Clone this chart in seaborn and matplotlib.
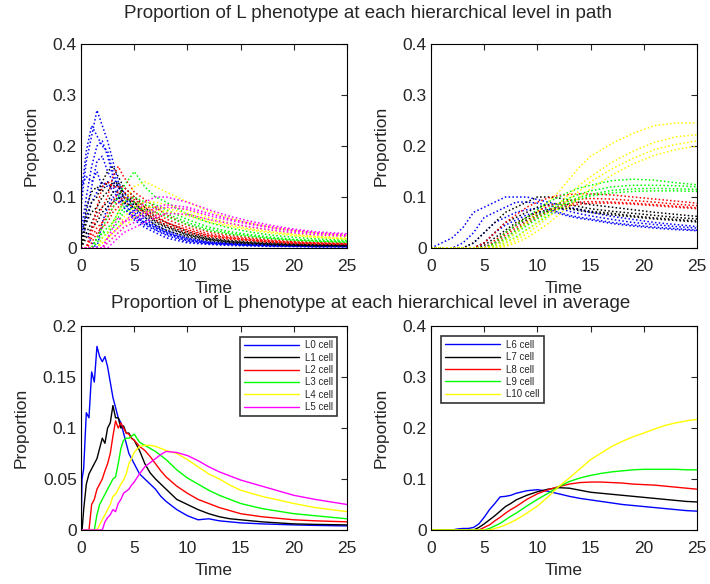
import numpy as np
import pandas as pd
import seaborn as sns
import matplotlib
matplotlib.use('Agg')
import matplotlib.pyplot as plt
from matplotlib.ticker import FuncFormatter

# ---------------- data ----------------
# path samples (top panels)
t_path_a = [0, 0.5, 1, 1.5, 2, 2.5, 3, 3.5, 4, 5, 6, 7, 8, 10, 12, 14, 16, 18, 20, 22, 25]
paths_l0 = [
    [0.08, 0.17, 0.22, 0.27, 0.24, 0.21, 0.17, 0.13, 0.11, 0.08, 0.06, 0.045, 0.035, 0.02, 0.012, 0.009, 0.007, 0.006, 0.005, 0.004, 0.004],
    [0.03, 0.10, 0.16, 0.20, 0.21, 0.18, 0.14, 0.12, 0.10, 0.07, 0.05, 0.04, 0.03, 0.017, 0.01, 0.008, 0.006, 0.005, 0.004, 0.004, 0.003],
    [0.12, 0.14, 0.13, 0.15, 0.12, 0.13, 0.11, 0.10, 0.09, 0.06, 0.045, 0.035, 0.025, 0.012, 0.008, 0.006, 0.005, 0.004, 0.003, 0.003, 0.003],
    [0.06, 0.05, 0.09, 0.11, 0.13, 0.12, 0.12, 0.10, 0.08, 0.055, 0.04, 0.03, 0.02, 0.01, 0.007, 0.005, 0.004, 0.003, 0.003, 0.002, 0.002],
    [0.05, 0.03, 0.01, 0.0, 0.05, 0.08, 0.10, 0.09, 0.08, 0.06, 0.05, 0.04, 0.03, 0.015, 0.01, 0.008, 0.006, 0.005, 0.004, 0.003, 0.003],
    [0.10, 0.19, 0.24, 0.22, 0.20, 0.19, 0.15, 0.12, 0.10, 0.075, 0.055, 0.042, 0.032, 0.018, 0.011, 0.008, 0.006, 0.005, 0.004, 0.004, 0.003],
    [0.02, 0.07, 0.12, 0.17, 0.18, 0.15, 0.13, 0.11, 0.09, 0.065, 0.048, 0.036, 0.027, 0.014, 0.009, 0.007, 0.005, 0.004, 0.004, 0.003, 0.003],
]
paths_l1 = [
    [0, 0.06, 0.09, 0.10, 0.13, 0.15, 0.16, 0.14, 0.12, 0.10, 0.08, 0.06, 0.05, 0.032, 0.02, 0.015, 0.012, 0.01, 0.008, 0.007, 0.006],
    [0, 0.03, 0.05, 0.07, 0.08, 0.09, 0.11, 0.11, 0.10, 0.09, 0.07, 0.055, 0.045, 0.028, 0.018, 0.013, 0.01, 0.008, 0.007, 0.006, 0.005],
    [0, 0.02, 0.04, 0.05, 0.07, 0.08, 0.09, 0.10, 0.09, 0.08, 0.06, 0.045, 0.035, 0.022, 0.014, 0.01, 0.008, 0.006, 0.005, 0.004, 0.004],
    [0, 0.05, 0.07, 0.08, 0.10, 0.11, 0.13, 0.12, 0.11, 0.09, 0.065, 0.05, 0.04, 0.025, 0.016, 0.012, 0.009, 0.007, 0.006, 0.005, 0.005],
    [0, 0.08, 0.11, 0.12, 0.11, 0.13, 0.12, 0.13, 0.10, 0.085, 0.07, 0.052, 0.042, 0.026, 0.017, 0.012, 0.01, 0.008, 0.006, 0.005, 0.005],
]
paths_l2 = [
    [0, 0, 0.03, 0.06, 0.08, 0.10, 0.14, 0.16, 0.14, 0.11, 0.095, 0.08, 0.065, 0.045, 0.032, 0.025, 0.02, 0.016, 0.013, 0.011, 0.01],
    [0, 0, 0.02, 0.04, 0.05, 0.07, 0.09, 0.11, 0.11, 0.095, 0.08, 0.065, 0.05, 0.036, 0.025, 0.02, 0.016, 0.013, 0.01, 0.009, 0.008],
    [0, 0, 0.01, 0.03, 0.04, 0.05, 0.07, 0.08, 0.09, 0.08, 0.07, 0.055, 0.045, 0.03, 0.022, 0.017, 0.014, 0.011, 0.009, 0.008, 0.007],
    [0, 0, 0.0, 0.02, 0.05, 0.06, 0.08, 0.09, 0.10, 0.09, 0.075, 0.06, 0.05, 0.034, 0.024, 0.019, 0.015, 0.012, 0.01, 0.009, 0.008],
    [0, 0, 0.04, 0.08, 0.12, 0.13, 0.12, 0.12, 0.12, 0.10, 0.085, 0.07, 0.057, 0.04, 0.028, 0.022, 0.018, 0.014, 0.012, 0.01, 0.009],
]
paths_l3 = [
    [0, 0, 0, 0.02, 0.04, 0.06, 0.08, 0.10, 0.12, 0.15, 0.12, 0.10, 0.09, 0.066, 0.05, 0.039, 0.031, 0.025, 0.021, 0.018, 0.015],
    [0, 0, 0, 0.01, 0.03, 0.04, 0.05, 0.07, 0.09, 0.10, 0.09, 0.085, 0.075, 0.056, 0.041, 0.032, 0.026, 0.021, 0.017, 0.015, 0.013],
    [0, 0, 0, 0.0, 0.02, 0.03, 0.04, 0.05, 0.07, 0.08, 0.075, 0.07, 0.062, 0.046, 0.034, 0.027, 0.022, 0.018, 0.015, 0.013, 0.011],
    [0, 0, 0, 0.02, 0.03, 0.03, 0.05, 0.06, 0.08, 0.09, 0.085, 0.078, 0.068, 0.05, 0.037, 0.029, 0.024, 0.019, 0.016, 0.014, 0.012],
]
paths_l4 = [
    [0, 0, 0, 0, 0.02, 0.03, 0.05, 0.07, 0.09, 0.12, 0.13, 0.12, 0.11, 0.09, 0.072, 0.058, 0.048, 0.04, 0.034, 0.029, 0.024],
    [0, 0, 0, 0, 0.01, 0.02, 0.03, 0.04, 0.06, 0.08, 0.09, 0.09, 0.085, 0.074, 0.06, 0.049, 0.04, 0.034, 0.028, 0.024, 0.02],
    [0, 0, 0, 0, 0.0, 0.01, 0.02, 0.03, 0.04, 0.06, 0.07, 0.075, 0.072, 0.063, 0.051, 0.042, 0.035, 0.029, 0.024, 0.021, 0.017],
    [0, 0, 0, 0, 0.01, 0.02, 0.03, 0.04, 0.05, 0.07, 0.08, 0.08, 0.078, 0.068, 0.055, 0.045, 0.037, 0.031, 0.026, 0.022, 0.018],
]
paths_l5 = [
    [0, 0, 0, 0, 0, 0.02, 0.03, 0.04, 0.05, 0.07, 0.09, 0.10, 0.10, 0.09, 0.075, 0.062, 0.052, 0.044, 0.037, 0.032, 0.028],
    [0, 0, 0, 0, 0, 0.01, 0.02, 0.03, 0.04, 0.05, 0.065, 0.075, 0.08, 0.076, 0.064, 0.054, 0.046, 0.039, 0.033, 0.029, 0.025],
    [0, 0, 0, 0, 0, 0.0, 0.01, 0.02, 0.03, 0.04, 0.05, 0.06, 0.068, 0.066, 0.056, 0.048, 0.041, 0.035, 0.03, 0.026, 0.023],
    [0, 0, 0, 0, 0, 0.02, 0.04, 0.06, 0.05, 0.06, 0.07, 0.08, 0.085, 0.08, 0.068, 0.057, 0.048, 0.041, 0.035, 0.03, 0.026],
]

t_path_b = [0, 2, 3, 4, 5, 6, 7, 8, 9, 10, 11, 12, 13, 14, 15, 17, 19, 21, 23, 25]
paths_l6 = [
    [0, 0.02, 0.04, 0.07, 0.08, 0.09, 0.10, 0.10, 0.10, 0.095, 0.09, 0.085, 0.08, 0.075, 0.07, 0.062, 0.056, 0.05, 0.046, 0.042],
    [0, 0, 0.01, 0.03, 0.06, 0.07, 0.08, 0.09, 0.09, 0.088, 0.084, 0.078, 0.072, 0.067, 0.063, 0.056, 0.05, 0.046, 0.042, 0.039],
    [0, 0, 0, 0.01, 0.03, 0.05, 0.06, 0.07, 0.075, 0.078, 0.076, 0.07, 0.064, 0.06, 0.057, 0.05, 0.045, 0.041, 0.038, 0.035],
    [0, 0, 0, 0, 0.01, 0.03, 0.045, 0.055, 0.065, 0.07, 0.072, 0.068, 0.062, 0.058, 0.055, 0.048, 0.043, 0.039, 0.036, 0.034],
]
paths_l7 = [
    [0, 0, 0, 0.01, 0.03, 0.05, 0.07, 0.08, 0.09, 0.10, 0.10, 0.098, 0.094, 0.089, 0.085, 0.08, 0.075, 0.07, 0.066, 0.062],
    [0, 0, 0, 0, 0.01, 0.03, 0.05, 0.06, 0.07, 0.08, 0.085, 0.087, 0.085, 0.081, 0.077, 0.072, 0.068, 0.064, 0.06, 0.057],
    [0, 0, 0, 0, 0.0, 0.01, 0.03, 0.045, 0.055, 0.065, 0.072, 0.077, 0.078, 0.076, 0.072, 0.068, 0.063, 0.059, 0.056, 0.053],
    [0, 0, 0, 0, 0.005, 0.02, 0.035, 0.05, 0.06, 0.07, 0.075, 0.078, 0.077, 0.073, 0.07, 0.065, 0.061, 0.057, 0.054, 0.051],
]
paths_l8 = [
    [0, 0, 0, 0, 0.01, 0.03, 0.05, 0.065, 0.08, 0.09, 0.098, 0.103, 0.105, 0.106, 0.106, 0.104, 0.1, 0.096, 0.092, 0.088],
    [0, 0, 0, 0, 0, 0.015, 0.03, 0.045, 0.06, 0.072, 0.082, 0.088, 0.093, 0.096, 0.097, 0.096, 0.093, 0.09, 0.086, 0.083],
    [0, 0, 0, 0, 0, 0.005, 0.02, 0.035, 0.048, 0.06, 0.07, 0.078, 0.083, 0.086, 0.088, 0.088, 0.086, 0.083, 0.08, 0.077],
    [0, 0, 0, 0, 0, 0.01, 0.025, 0.04, 0.052, 0.064, 0.074, 0.082, 0.087, 0.09, 0.091, 0.09, 0.088, 0.085, 0.082, 0.079],
]
paths_l9 = [
    [0, 0, 0, 0, 0, 0.01, 0.03, 0.045, 0.06, 0.075, 0.09, 0.1, 0.11, 0.118, 0.123, 0.132, 0.135, 0.133, 0.128, 0.124],
    [0, 0, 0, 0, 0, 0.005, 0.02, 0.035, 0.05, 0.063, 0.076, 0.088, 0.098, 0.106, 0.112, 0.12, 0.123, 0.123, 0.122, 0.12],
    [0, 0, 0, 0, 0, 0, 0.01, 0.022, 0.036, 0.05, 0.063, 0.076, 0.088, 0.096, 0.102, 0.108, 0.111, 0.112, 0.112, 0.111],
    [0, 0, 0, 0, 0, 0.005, 0.015, 0.03, 0.044, 0.057, 0.07, 0.082, 0.092, 0.1, 0.105, 0.113, 0.116, 0.117, 0.116, 0.115],
]
paths_l10 = [
    [0, 0, 0, 0, 0, 0.005, 0.015, 0.03, 0.05, 0.07, 0.09, 0.11, 0.135, 0.16, 0.18, 0.205, 0.225, 0.24, 0.245, 0.245],
    [0, 0, 0, 0, 0, 0, 0.01, 0.02, 0.035, 0.05, 0.068, 0.087, 0.106, 0.124, 0.14, 0.168, 0.19, 0.207, 0.218, 0.222],
    [0, 0, 0, 0, 0, 0, 0.005, 0.015, 0.028, 0.043, 0.06, 0.078, 0.096, 0.113, 0.13, 0.155, 0.176, 0.193, 0.203, 0.21],
    [0, 0, 0, 0, 0, 0, 0.003, 0.01, 0.02, 0.033, 0.048, 0.065, 0.082, 0.1, 0.116, 0.143, 0.165, 0.182, 0.193, 0.2],
]

# averages (bottom panels)
t_avg_a = [0, 0.1, 0.25, 0.5, 0.75, 1, 1.25, 1.5, 1.75, 2, 2.25, 2.5, 2.75, 3, 3.25, 3.5, 3.75, 4, 4.25,
           4.5, 4.75, 5, 5.5, 6, 6.5, 7, 7.5, 8, 9, 10, 11, 12, 13, 14, 15, 17, 20, 22, 25]
avg_l0 = [0, 0.05, 0.06, 0.115, 0.11, 0.155, 0.145, 0.18, 0.17, 0.165, 0.17, 0.16, 0.145, 0.13, 0.12, 0.11, 0.105,
          0.095, 0.085, 0.075, 0.07, 0.065, 0.055, 0.05, 0.045, 0.04, 0.033, 0.028, 0.02, 0.014, 0.01, 0.011, 0.009,
          0.008, 0.007, 0.006, 0.005, 0.0045, 0.004]
avg_l1 = [0, 0, 0.02, 0.045, 0.055, 0.06, 0.065, 0.07, 0.08, 0.09, 0.085, 0.1, 0.105, 0.122, 0.11, 0.11, 0.1,
          0.102, 0.095, 0.095, 0.09, 0.088, 0.078, 0.065, 0.056, 0.05, 0.045, 0.04, 0.03, 0.025, 0.02, 0.016, 0.013,
          0.011, 0.01, 0.008, 0.006, 0.0055, 0.005]
avg_l2 = [0, 0, 0, 0, 0, 0.025, 0.03, 0.04, 0.045, 0.05, 0.058, 0.065, 0.075, 0.092, 0.107, 0.1, 0.105, 0.1,
          0.095, 0.094, 0.09, 0.088, 0.082, 0.078, 0.072, 0.065, 0.058, 0.052, 0.043, 0.036, 0.03, 0.026, 0.022,
          0.019, 0.016, 0.013, 0.01, 0.009, 0.008]
avg_l3 = [0, 0, 0, 0, 0, 0, 0, 0.015, 0.025, 0.03, 0.035, 0.04, 0.045, 0.05, 0.052, 0.065, 0.08, 0.088, 0.09,
          0.09, 0.092, 0.094, 0.086, 0.083, 0.08, 0.077, 0.073, 0.069, 0.059, 0.051, 0.045, 0.039, 0.034, 0.03,
          0.026, 0.021, 0.016, 0.014, 0.011]
avg_l4 = [0, 0, 0, 0, 0, 0, 0, 0, 0.005, 0.01, 0.015, 0.02, 0.025, 0.033, 0.035, 0.04, 0.045, 0.049, 0.055,
          0.065, 0.07, 0.076, 0.082, 0.083, 0.083, 0.082, 0.08, 0.078, 0.075, 0.069, 0.062, 0.055, 0.05, 0.044,
          0.039, 0.033, 0.026, 0.022, 0.018]
avg_l5 = [0, 0, 0, 0, 0, 0, 0, 0, 0, 0, 0.008, 0.012, 0.015, 0.02, 0.018, 0.026, 0.03, 0.036, 0.038, 0.04,
          0.044, 0.047, 0.055, 0.062, 0.066, 0.07, 0.074, 0.077, 0.076, 0.073, 0.068, 0.062, 0.057, 0.053, 0.049,
          0.043, 0.034, 0.03, 0.025]

t_avg_b = [0, 1, 2, 2.5, 3, 3.5, 4, 4.5, 5, 5.5, 6, 6.5, 7, 7.5, 8, 9, 10, 11, 12, 13, 14, 15, 16, 17, 18,
           19, 20, 21, 22, 23, 24, 25]
avg_l6 = [0, 0, 0, 0.002, 0.003, 0.003, 0.005, 0.012, 0.025, 0.04, 0.052, 0.065, 0.066, 0.068, 0.072, 0.077,
          0.079, 0.076, 0.071, 0.066, 0.062, 0.059, 0.056, 0.053, 0.05, 0.048, 0.046, 0.044, 0.042, 0.04, 0.038, 0.037]
avg_l7 = [0, 0, 0, 0, 0, 0, 0, 0.005, 0.012, 0.02, 0.028, 0.037, 0.046, 0.052, 0.059, 0.068, 0.075, 0.08,
          0.083, 0.082, 0.078, 0.074, 0.072, 0.07, 0.068, 0.066, 0.064, 0.062, 0.06, 0.058, 0.056, 0.055]
avg_l8 = [0, 0, 0, 0, 0, 0, 0, 0, 0.005, 0.01, 0.018, 0.025, 0.033, 0.04, 0.046, 0.06, 0.071, 0.079, 0.085,
          0.09, 0.093, 0.094, 0.094, 0.093, 0.092, 0.09, 0.089, 0.088, 0.086, 0.084, 0.082, 0.08]
avg_l9 = [0, 0, 0, 0, 0, 0, 0, 0, 0, 0.003, 0.008, 0.013, 0.02, 0.027, 0.033, 0.047, 0.06, 0.072, 0.085,
          0.095, 0.102, 0.107, 0.111, 0.114, 0.116, 0.118, 0.119, 0.119, 0.119, 0.119, 0.118, 0.118]
avg_l10 = [0, 0, 0, 0, 0, 0, 0, 0, 0, 0, 0.003, 0.006, 0.01, 0.015, 0.02, 0.033, 0.047, 0.065, 0.085, 0.102,
           0.12, 0.138, 0.151, 0.164, 0.174, 0.183, 0.19, 0.198, 0.205, 0.21, 0.214, 0.217]

labels_a = ['L0 cell', 'L1 cell', 'L2 cell', 'L3 cell', 'L4 cell', 'L5 cell']
labels_b = ['L6 cell', 'L7 cell', 'L8 cell', 'L9 cell', 'L10 cell']
colors_a = ['#0000ff', '#000000', '#ff0000', '#00ff00', '#ffff00', '#ff00ff']
colors_b = ['#0000ff', '#000000', '#ff0000', '#00ff00', '#ffff00']

# ---------------- plotting ----------------
sns.set_style('white')
plt.rcParams['font.family'] = ['Liberation Sans', 'DejaVu Sans']

fig = plt.figure(figsize=(7.1, 5.84), dpi=100)
w, h = 266 / 710, 204 / 584
ax_tl = fig.add_axes([81 / 710, 1 - 248 / 584, w, h])
ax_tr = fig.add_axes([431 / 710, 1 - 248 / 584, w, h])
ax_bl = fig.add_axes([81 / 710, 1 - 530 / 584, w, h])
ax_br = fig.add_axes([431 / 710, 1 - 530 / 584, w, h])

dot = (0, (1, 1.5))
for paths, c in zip([paths_l0, paths_l1, paths_l2, paths_l3, paths_l4, paths_l5], colors_a):
    for p in paths:
        sns.lineplot(x=t_path_a, y=p, ax=ax_tl, color=c, lw=1.1, linestyle=dot,
                     estimator=None, sort=False)
for paths, c in zip([paths_l6, paths_l7, paths_l8, paths_l9, paths_l10], colors_b):
    for p in paths:
        sns.lineplot(x=t_path_b, y=p, ax=ax_tr, color=c, lw=1.1, linestyle=dot,
                     estimator=None, sort=False)

for y, c, lab in zip([avg_l0, avg_l1, avg_l2, avg_l3, avg_l4, avg_l5], colors_a, labels_a):
    sns.lineplot(x=t_avg_a, y=y, ax=ax_bl, color=c, lw=1.0, label=lab,
                 estimator=None, sort=False)
for y, c, lab in zip([avg_l6, avg_l7, avg_l8, avg_l9, avg_l10], colors_b, labels_b):
    sns.lineplot(x=t_avg_b, y=y, ax=ax_br, color=c, lw=1.0, label=lab,
                 estimator=None, sort=False)

fmt = FuncFormatter(lambda v, p: '%g' % round(v, 4))
for ax, ymax, ystep in [(ax_tl, 0.4, 0.1), (ax_tr, 0.4, 0.1), (ax_bl, 0.2, 0.05), (ax_br, 0.4, 0.1)]:
    ax.set_xlim(0, 25)
    ax.set_ylim(0, ymax)
    ax.set_xticks([0, 5, 10, 15, 20, 25])
    ax.set_yticks(np.arange(0, ymax + 1e-9, ystep))
    ax.yaxis.set_major_formatter(fmt)
    ax.tick_params(direction='in', top=True, right=True, length=4, width=0.8,
                   labelsize=12.5)
    ax.tick_params(axis='x', pad=8)
    ax.tick_params(axis='y', pad=3)
    ax.set_xlabel('Time', fontsize=12.5, labelpad=5)
    ax.set_ylabel('Proportion', fontsize=12.5, labelpad=10)
    for s in ax.spines.values():
        s.set_color('black')
        s.set_linewidth(0.8)

leg_kw = dict(fontsize=7, frameon=True, fancybox=False, edgecolor='black',
              handlelength=5.7, handletextpad=0.6, borderpad=0.4, labelspacing=0.24,
              borderaxespad=0)
lg = ax_bl.legend(loc='upper right', bbox_to_anchor=(0.962, 0.948), **leg_kw)
lg.get_frame().set_linewidth(1.2)
lg = ax_br.legend(loc='upper left', bbox_to_anchor=(0.038, 0.951), **leg_kw)
lg.get_frame().set_linewidth(1.2)

fig.text(368 / 710, 1 - 14 / 584, 'Proportion of L phenotype at each hierarchical level in path',
         ha='center', va='center', fontsize=13.5)
fig.text(371 / 710, 1 - 304 / 584, 'Proportion of L phenotype at each hierarchical level in average',
         ha='center', va='center', fontsize=13.5)

fig.savefig('out.png', dpi=100, facecolor='white')
